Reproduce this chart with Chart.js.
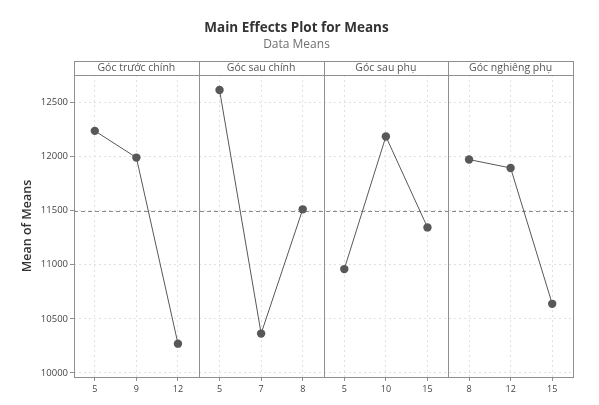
<html>
<head>
<meta charset="utf-8">
<script src="https://cdn.jsdelivr.net/npm/chart.js@4.4.1/dist/chart.umd.min.js"></script>
<style>
	body { margin: 0; background: #fff; }
	#wrap { width: 599px; height: 405px; }
</style>
</head>
<body>
<div id="wrap"><canvas id="myChart" width="599" height="405"></canvas></div>
<script>
	// panel names and the level labels of each factor
	var panels = ["Góc trước chính", "Góc sau chính", "Góc sau phụ", "Góc nghiêng phụ"];
	var levels1 = ["5", "9", "12"];
	var levels2 = ["5", "7", "8"];
	var levels3 = ["5", "10", "15"];
	var levels4 = ["8", "12", "15"];
	// means
	var means1 = [12237, 11990, 10271];
	var means2 = [12614, 10364, 11512];
	var means3 = [10960, 12185, 11345];
	var means4 = [11972, 11894, 10639];
	var grandMean = 11500;
	var yTicks = [10000, 10500, 11000, 11500, 12000, 12500];

	var labels = levels1.concat(levels2, levels3, levels4);

	function panelData(idx, vals){
		var d = [];
		for(var i = 0; i < labels.length; i++) d.push(null);
		for(var k = 0; k < vals.length; k++) d[idx * 3 + k] = vals[k];
		return d;
	}

	var lineColor = "#585858";
	var font = "'Open Sans', 'DejaVu Sans', sans-serif";

	function ds(idx, vals){
		return {
			data: panelData(idx, vals),
			borderColor: lineColor,
			backgroundColor: lineColor,
			borderWidth: 1,
			pointRadius: 4.2,
			pointHoverRadius: 4.2,
			pointBorderWidth: 0,
			spanGaps: false,
			tension: 0
		};
	}

	// frame, panel dividers, header strips, mean line
	var panelPlugin = {
		id: "panels",
		beforeDatasetsDraw: function(chart){
			var ctx = chart.ctx, a = chart.chartArea;
			var ys = chart.scales.y;
			var yMean = ys.getPixelForValue(grandMean);
			ctx.save();
			ctx.strokeStyle = "#8a8a8a";
			ctx.lineWidth = 1;
			ctx.setLineDash([4, 3]);
			ctx.beginPath();
			ctx.moveTo(a.left, Math.round(yMean) + 0.5);
			ctx.lineTo(a.right, Math.round(yMean) + 0.5);
			ctx.stroke();
			ctx.restore();
		},
		afterDraw: function(chart){
			var ctx = chart.ctx, a = chart.chartArea;
			var xs = chart.scales.x;
			var hTop = a.top - 14;
			ctx.save();
			ctx.strokeStyle = "#8f8f8f";
			ctx.lineWidth = 1;
			ctx.strokeRect(Math.round(a.left) + 0.5, Math.round(hTop) + 0.5, Math.round(a.right - a.left), Math.round(a.bottom - hTop));
			ctx.beginPath();
			ctx.moveTo(a.left, Math.round(a.top) + 0.5);
			ctx.lineTo(a.right, Math.round(a.top) + 0.5);
			for(var p = 1; p < panels.length; p++){
				var x = Math.round(xs.getPixelForValue(p * 3 - 0.5)) + 0.5;
				ctx.moveTo(x, hTop);
				ctx.lineTo(x, a.bottom);
			}
			ctx.stroke();
			ctx.fillStyle = "#555";
			ctx.font = "10.5px " + font;
			ctx.textAlign = "center";
			ctx.textBaseline = "middle";
			for(var p = 0; p < panels.length; p++){
				var l = xs.getPixelForValue(p * 3 - 0.5);
				var r = xs.getPixelForValue(p * 3 + 2.5);
				ctx.fillText(panels[p], (l + r) / 2, hTop + 7.5);
			}
			ctx.restore();
		}
	};

	new Chart(document.getElementById("myChart").getContext("2d"), {
		type: "line",
		data: {
			labels: labels,
			datasets: [ds(0, means1), ds(1, means2), ds(2, means3), ds(3, means4)]
		},
		options: {
			responsive: false,
			animation: false,
			layout: { padding: { top: 15, right: 26, left: 20, bottom: 0 } },
			plugins: {
				legend: { display: false },
				tooltip: { enabled: false },
				title: {
					display: true,
					text: "Main Effects Plot for Means",
					color: "#333",
					font: { family: font, size: 13.5, weight: "bold" },
					padding: { top: 5, bottom: 1 }
				},
				subtitle: {
					display: true,
					text: "Data Means",
					color: "#707070",
					font: { family: font, size: 12 },
					padding: { top: 0.6, bottom: 22.8 }
				}
			},
			scales: {
				x: {
					type: "category",
					offset: true,
					grid: {
						offset: false,
						color: "#e0e0e0",
						drawTicks: true,
						tickLength: 4,
						tickColor: "#8f8f8f",
						tickBorderDash: [1, 0]
					},
					border: { display: false, dash: [2, 3] },
					ticks: {
						color: "#444",
						font: { family: font, size: 9 },
						padding: 3,
						maxRotation: 0,
						autoSkip: false
					},
					afterFit: function(scale){ scale.height = 28; }
				},
				y: {
					min: 9963,
					max: 12753,
					grid: {
						color: "#e0e0e0",
						tickLength: 4,
						tickColor: "#8f8f8f",
						tickBorderDash: [1, 0]
					},
					border: { display: false, dash: [2, 3] },
					ticks: {
						color: "#444",
						font: { family: font, size: 9.5 },
						padding: 2,
						callback: function(v){ return String(v); }
					},
					afterBuildTicks: function(scale){
						scale.ticks = yTicks.map(function(v){ return { value: v }; });
					},
					title: {
						display: true,
						text: "Mean of Means",
						color: "#333",
						font: { family: font, size: 12.5, weight: "600" },
						padding: { top: 0, bottom: 4 }
					},
					afterFit: function(scale){ scale.width = 54; }
				}
			}
		},
		plugins: [panelPlugin]
	});
</script>
</body>
</html>
